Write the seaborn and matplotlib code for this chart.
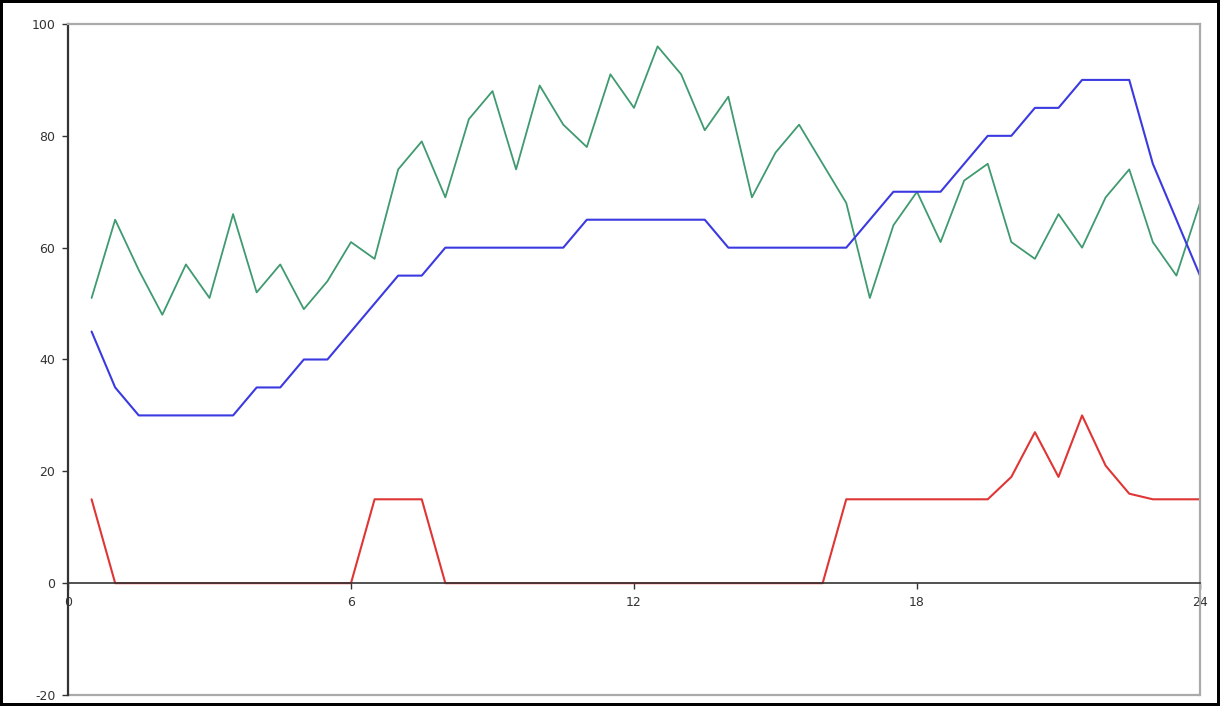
import matplotlib
matplotlib.use("Agg")
import matplotlib.pyplot as plt
import seaborn as sns
import pandas as pd
import numpy as np

hours = [0.5 * i for i in range(1, 49)]

green = [51, 65, 56, 48, 57, 51, 66, 52, 57, 49, 54, 61, 58, 74, 79, 69,
         83, 88, 74, 89, 82, 78, 91, 85, 96, 91, 81, 87, 69, 77, 82, 75,
         68, 51, 64, 70, 61, 72, 75, 61, 58, 66, 60, 69, 74, 61, 55, 68]

blue = [45, 35, 30, 30, 30, 30, 30, 35, 35, 40, 40, 45, 50, 55, 55, 60,
        60, 60, 60, 60, 60, 65, 65, 65, 65, 65, 65, 60, 60, 60, 60, 60,
        60, 65, 70, 70, 70, 75, 80, 80, 85, 85, 90, 90, 90, 75, 65, 55]

red = [15, 0, 0, 0, 0, 0, 0, 0, 0, 0, 0, 0, 15, 15, 15, 0,
       0, 0, 0, 0, 0, 0, 0, 0, 0, 0, 0, 0, 0, 0, 0, 0,
       15, 15, 15, 15, 15, 15, 15, 19, 27, 19, 30, 21, 16, 15, 15, 15]

x_ticks = [0, 6, 12, 18, 24]
y_ticks = [-20, 0, 20, 40, 60, 80, 100]

df = pd.DataFrame({"hour": hours, "green": green, "blue": blue, "red": red})

sns.set_style("white")
plt.rcParams['font.family'] = ['DejaVu Sans']

fig = plt.figure(figsize=(12.2, 7.06), dpi=100)
fig.patch.set_facecolor("white")
fig.patch.set_edgecolor("black")
fig.patch.set_linewidth(3)

ax = fig.add_axes([68 / 1220, 11 / 706, 1132 / 1220, 671 / 706])

sns.lineplot(data=df, x="hour", y="green", ax=ax, color="#3f9a70", linewidth=1.3)
sns.lineplot(data=df, x="hour", y="blue", ax=ax, color="#3a3ae0", linewidth=1.5)
sns.lineplot(data=df, x="hour", y="red", ax=ax, color="#e03535", linewidth=1.5)

ax.set_xlim(0, 24)
ax.set_ylim(-20, 100)
ax.set_xticks(x_ticks)
ax.set_xticklabels([str(v) for v in x_ticks])
ax.set_yticks(y_ticks)
ax.set_yticklabels([str(v) for v in y_ticks])
ax.set_xlabel("")
ax.set_ylabel("")

ax.spines["left"].set_color("#333333")
ax.spines["left"].set_linewidth(1.6)
ax.spines["bottom"].set_position(("data", 0))
ax.spines["bottom"].set_color("#333333")
ax.spines["bottom"].set_linewidth(1.2)
for s in ["top", "right"]:
    ax.spines[s].set_color("#aaaaaa")
    ax.spines[s].set_linewidth(1.6)
ax.axhline(-20, color="#aaaaaa", linewidth=1.6, clip_on=False, zorder=0)

ax.tick_params(axis="y", direction="out", length=4, width=1, color="#333333",
               labelsize=9, labelcolor="#333333", pad=5, left=True)
ax.tick_params(axis="x", direction="out", length=4, width=1, color="#333333",
               labelsize=9, labelcolor="#333333", pad=5, bottom=True)

fig.savefig("out.png", dpi=100, facecolor=fig.get_facecolor(), edgecolor=fig.get_edgecolor())
